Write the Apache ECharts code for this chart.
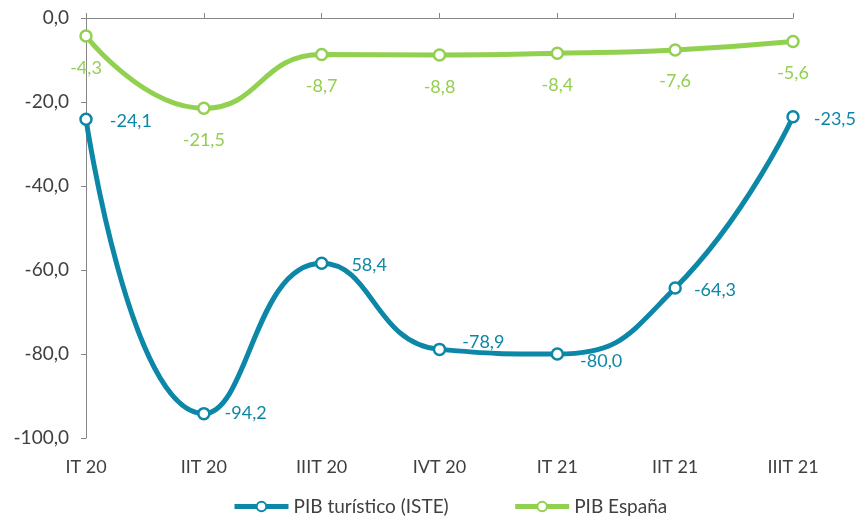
<!DOCTYPE html>
<html><head><meta charset="utf-8">
<script src="https://cdn.jsdelivr.net/npm/echarts@6/dist/echarts.min.js"></script>
<style>html,body{margin:0;padding:0;background:#fff}#c{width:862px;height:523px}</style>
</head><body><div id="c"></div>
<script>
var categories = ['IT 20','IIT 20','IIIT 20','IVT 20','IT 21','IIT 21','IIIT 21'];
var pibTuristico = [-24.1,-94.2,-58.4,-78.9,-80.0,-64.3,-23.5];
var pibTuristicoLabels = ['-24,1','-94,2','58,4','-78,9','-80,0','-64,3','-23,5'];
var pibEspana = [-4.3,-21.5,-8.7,-8.8,-8.4,-7.6,-5.6];
var yTicks = [0,-20,-40,-60,-80,-100];

var FONT = 'Lato, "Open Sans", sans-serif';
var BLUE = '#0c87a7', GREEN = '#92d050';
function fmt(v){ return v.toFixed(1).replace('.',','); }

// label nudges (style only) so labels clear the smoothed curve
var blueLabelOffsets = [[3,2],[0,0],[9,2],[2,-7],[2,7],[-2,2],[0,2]];

var chart = echarts.init(document.getElementById('c'));
chart.setOption({
  animation:false,
  textStyle:{fontFamily:FONT},
  grid:{left:86,right:69,top:18,bottom:85},
  legend:{
    bottom:2,left:227,itemWidth:54,itemHeight:12,itemGap:64,
    textStyle:{fontFamily:FONT,fontSize:19,color:'#404040'},
    lineStyle:{width:5},
    data:['PIB turístico (ISTE)','PIB España']
  },
  xAxis:[
    {type:'category',position:'top',data:categories,boundaryGap:false,
     axisLine:{onZero:false,lineStyle:{color:'#868686',width:1}},
     axisTick:{show:true,length:5,lineStyle:{color:'#868686'}},
     axisLabel:{show:false},splitLine:{show:false}},
    {type:'category',position:'bottom',data:categories,boundaryGap:false,
     axisLine:{show:false},axisTick:{show:false},
     axisLabel:{margin:20,fontSize:18,color:'#404040',fontFamily:FONT},splitLine:{show:false}}
  ],
  yAxis:{type:'value',min:-100,max:0,interval:20,
    axisLine:{show:true,lineStyle:{color:'#868686'}},
    axisTick:{show:true,length:5,lineStyle:{color:'#868686'}},
    splitLine:{show:false},
    axisLabel:{fontSize:19,color:'#404040',margin:17,fontFamily:FONT,
      formatter:function(v){ return yTicks.indexOf(v)>=0 ? fmt(v) : ''; }}
  },
  series:[
    {name:'PIB turístico (ISTE)',type:'line',xAxisIndex:0,smooth:0.5,
     data:pibTuristico.map(function(v,i){ return {value:v,label:{offset:blueLabelOffsets[i]}}; }),
     symbol:'circle',symbolSize:11,
     lineStyle:{color:BLUE,width:5},
     itemStyle:{color:'#fff',borderColor:BLUE,borderWidth:2.5},
     label:{show:true,position:'right',distance:14,fontSize:18,color:BLUE,fontFamily:FONT,
       formatter:function(p){ return pibTuristicoLabels[p.dataIndex]; }}
    },
    {name:'PIB España',type:'line',xAxisIndex:0,data:pibEspana,smooth:0.5,
     symbol:'circle',symbolSize:11,
     lineStyle:{color:GREEN,width:5},
     itemStyle:{color:'#fff',borderColor:GREEN,borderWidth:2.5},
     label:{show:true,position:'bottom',distance:16,fontSize:18,color:GREEN,fontFamily:FONT,
       formatter:function(p){ return fmt(p.value); }}
    }
  ]
});
</script></body></html>
